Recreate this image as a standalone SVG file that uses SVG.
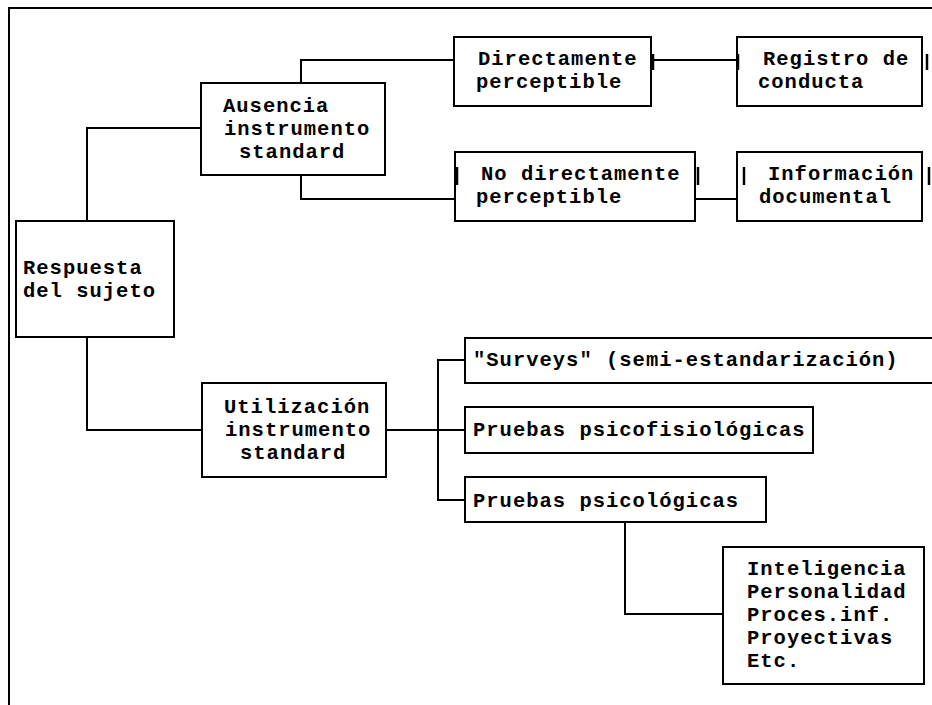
<svg xmlns="http://www.w3.org/2000/svg" width="932" height="705" viewBox="0 0 932 705">
<style>
.box{fill:#fff;stroke:#000;stroke-width:2}
.c{fill:none;stroke:#000;stroke-width:2}
.tick{stroke:#000;stroke-width:2.5}
text{font-family:"Liberation Mono","Courier New",monospace;font-weight:bold;font-size:20.5px;letter-spacing:1px;fill:#000}
</style>
<rect width="932" height="705" fill="#fff"/>
<g id="frame" class="c">
<path d="M8 8 H932"/>
<path d="M9 8 V705"/>
</g>
<g id="connectors" class="c">
<path d="M87 221 V128 H201"/>
<path d="M301 83 V60 H454"/>
<path d="M301 175 V199 H455"/>
<path d="M651 60 H737"/>
<path d="M695 199 H737"/>
<path d="M87 337 V430 H202"/>
<path d="M386 430 H465"/>
<path d="M465 360 H438 V500 H465"/>
<path d="M625 522 V614 H723"/>
</g>
<g id="n-respuesta">
<rect class="box" x="16" y="221" width="158" height="116"/>
<text x="23" y="274">Respuesta</text>
<text x="23" y="297">del sujeto</text>
</g>
<g id="n-ausencia">
<rect class="box" x="201" y="83" width="184" height="92"/>
<text x="223" y="112">Ausencia</text>
<text x="224" y="135">instrumento</text>
<text x="239" y="158">standard</text>
</g>
<g id="n-directamente">
<rect class="box" x="454" y="37" width="197" height="69"/>
<line class="tick" x1="653" y1="54" x2="653" y2="70"/>
<text x="478" y="65">Directamente</text>
<text x="476" y="88">perceptible</text>
</g>
<g id="n-registro">
<rect class="box" x="737" y="37" width="185" height="69"/>
<line class="tick" x1="738" y1="54" x2="738" y2="70"/>
<line class="tick" x1="927" y1="54" x2="927" y2="70"/>
<text x="763" y="65">Registro de</text>
<text x="758" y="88">conducta</text>
</g>
<g id="n-nodirectamente">
<rect class="box" x="455" y="152" width="240" height="69"/>
<line class="tick" x1="457" y1="167" x2="457" y2="185"/>
<line class="tick" x1="698" y1="167" x2="698" y2="185"/>
<text x="481" y="180">No directamente</text>
<text x="476" y="203">perceptible</text>
</g>
<g id="n-informacion">
<rect class="box" x="737" y="152" width="185" height="69"/>
<line class="tick" x1="744" y1="167" x2="744" y2="185"/>
<line class="tick" x1="929" y1="167" x2="929" y2="185"/>
<text x="768" y="180">Información</text>
<text x="759" y="203">documental</text>
</g>
<g id="n-utilizacion">
<rect class="box" x="202" y="383" width="184" height="94"/>
<text x="224" y="413">Utilización</text>
<text x="225" y="436">instrumento</text>
<text x="240" y="459">standard</text>
</g>
<g id="n-surveys">
<rect class="box" x="465" y="338" width="475" height="45"/>
<text x="473" y="366">"Surveys" (semi-estandarización)</text>
</g>
<g id="n-psicofisiologicas">
<rect class="box" x="465" y="407" width="348" height="46"/>
<text x="473" y="436">Pruebas psicofisiológicas</text>
</g>
<g id="n-psicologicas">
<rect class="box" x="465" y="477" width="301" height="45"/>
<text x="473" y="507">Pruebas psicológicas</text>
</g>
<g id="n-inteligencia">
<rect class="box" x="723" y="547" width="201" height="137"/>
<text x="747" y="575">Inteligencia</text>
<text x="747" y="598">Personalidad</text>
<text x="747" y="621">Proces.inf.</text>
<text x="747" y="644">Proyectivas</text>
<text x="747" y="667">Etc.</text>
</g>
</svg>
